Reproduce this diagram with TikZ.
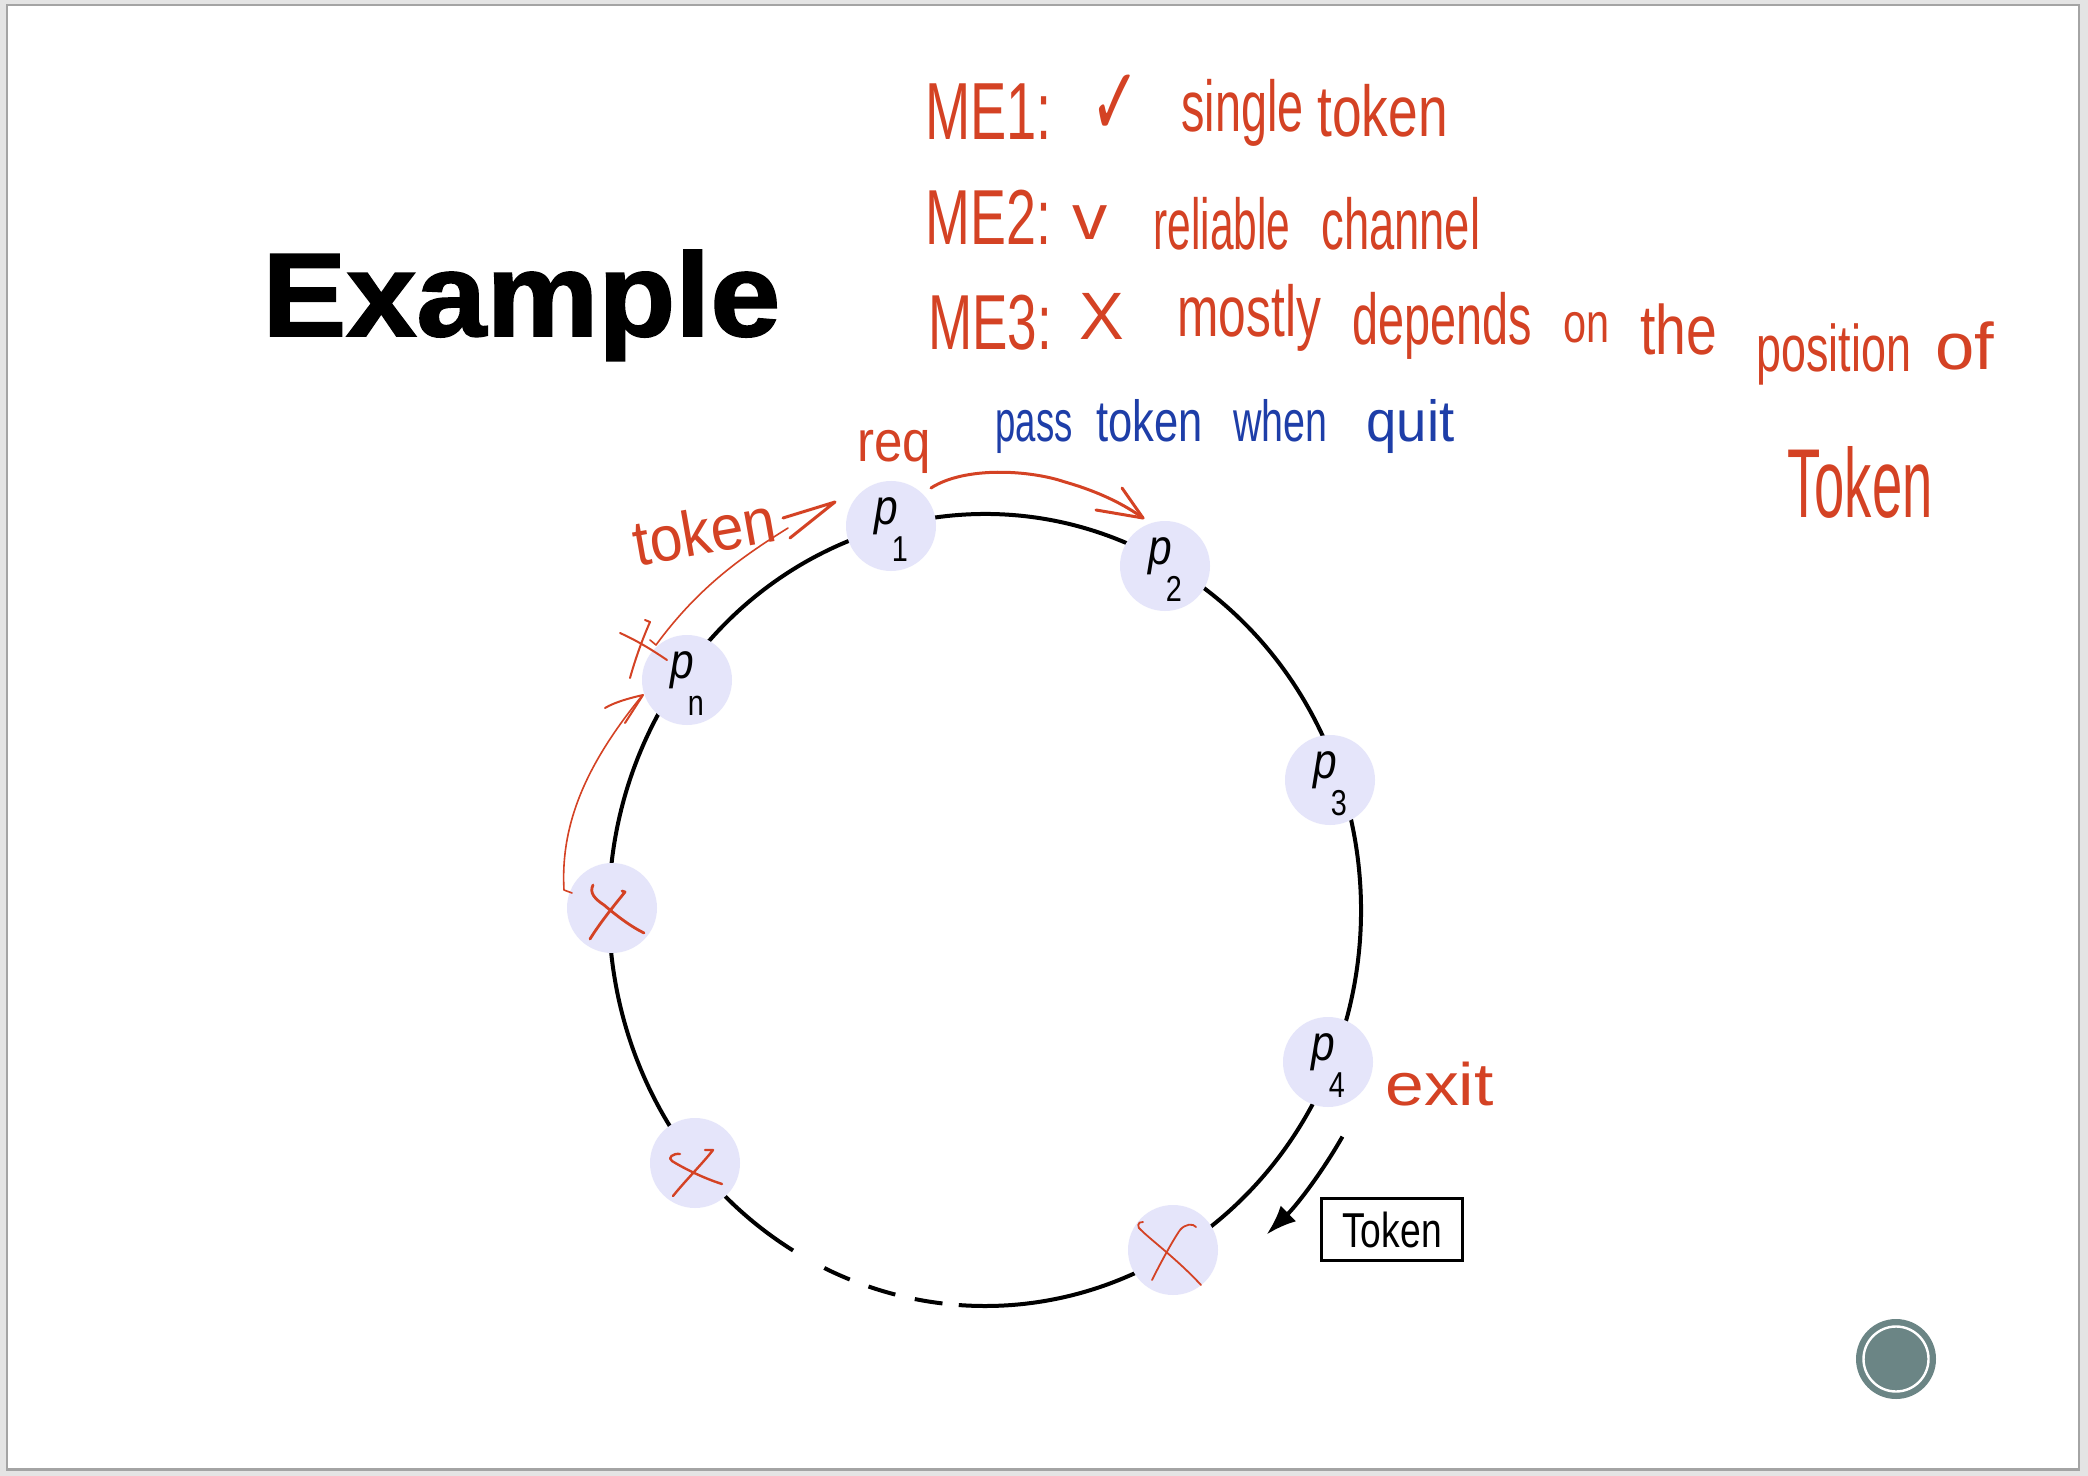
\documentclass[tikz,border=0pt]{standalone}
\usepackage{fontspec}
\usepackage{graphicx}
\usetikzlibrary{arrows.meta}
\setmainfont{Liberation Sans}
\newfontfamily\handfont{Liberation Sans}
\newfontfamily\symfont{DejaVu Sans}
\newfontfamily\titlefont[BoldFeatures={FakeBold=1.5}]{Liberation Sans}

\definecolor{hred}{RGB}{212,66,36}
\definecolor{hblue}{RGB}{30,62,168}
\definecolor{nodefill}{RGB}{229,229,250}
\definecolor{framegray}{RGB}{164,164,164}
\definecolor{shadowgray}{RGB}{228,228,228}
\definecolor{buttonteal}{RGB}{107,133,133}

% horizontally scaled text at a given size
\newcommand\hw[3]{\scalebox{#1}[1]{\fontsize{#2}{#2}\selectfont #3}}
% process label p with a low subscript
\newcommand\plab[1]{\hw{0.85}{25pt}{\itshape p}\kern-3pt\raisebox{-18.5pt}{\hw{0.8}{18pt}{#1}}}

\tikzset{
  hand/.style={inner sep=0, anchor=base west, text=hred, font=\handfont},
  handblue/.style={hand, text=hblue},
  proc/.style={circle, fill=nodefill, minimum size=45pt, inner sep=0,
               text height=14pt, text depth=16pt, font=\normalfont},
  ring/.style={line width=2pt},
  redpen/.style={draw=hred, line width=1.5pt, line cap=round, line join=round},
  thinpen/.style={draw=hred, line width=0.8pt, line cap=round, line join=round},
  xpen/.style={draw=hred, line width=1.2pt, line cap=round, line join=round},
}

\begin{document}
\begin{tikzpicture}[x=0.5pt,y=-0.5pt]
\useasboundingbox (0,0) rectangle (2088,1476);

% slide page with its frame
\fill[shadowgray] (0,0) rectangle (2088,1476);
\draw[framegray, line width=1.25pt, fill=white] (7,5) rectangle (2079,1469.5);

% title
\node[anchor=base west, inner sep=0, font=\titlefont\bfseries] (title) at (262,336)
  {\hw{1.06}{59.4pt}{Example}};

% the ring
\coordinate (c) at (985,910);
\draw[ring] (c) ++(120.7:376 and 396)
  arc[start angle=120.7, end angle=454, x radius=376, y radius=396];
\draw[ring, dash pattern=on 14pt off 10pt] (c) ++(96.5:376 and 396)
  arc[start angle=96.5, end angle=118, x radius=376, y radius=396];

% processes on the ring
\node[proc] (p1)  at (891,526)  {\plab{1}};
\node[proc] (p2)  at (1165,566) {\plab{2}};
\node[proc] (p3)  at (1330,780) {\plab{3}};
\node[proc] (p4)  at (1328,1062) {\plab{4}};
\node[proc] (xbr) at (1173,1250) {};
\node[proc] (xbl) at (695,1163) {};
\node[proc] (xl)  at (612,908)  {};
\node[proc] (pn)  at (687,680)  {\plab{n}};

% token travelling along the ring
\draw[ring, -{Latex[length=15pt,width=11pt]}] (c) ++(31:417 and 440)
  arc[start angle=31, end angle=47.5, x radius=417, y radius=440];
\node[draw, line width=1.7pt, minimum width=70.4pt, minimum height=31pt, inner sep=0]
  (tokbox) at (1392,1229.5) {\hw{0.76}{24.5pt}{Token}};

% crossed-out processes
\begin{scope}[shift={(xl)}]
  \draw[xpen, line width=1.4pt] (-19,-23) .. controls (-23,-15) and (-17,-9) .. (-8,-3)
     .. controls (5,8) and (18,18) .. (32,25);
  \draw[xpen, line width=1.4pt] (10,-17) -- (13,-16) .. controls (0,0) and (-12,15) .. (-22,31);
\end{scope}
\begin{scope}[shift={(xbl)}]
  \draw[xpen] (-15,-9) .. controls (-22,-10) and (-28,-5) .. (-23,-2)
     .. controls (-15,3) and (5,14) .. (27,21);
  \draw[xpen] (10,-13) -- (18,-13) .. controls (8,0) and (-10,18) .. (-22,33);
\end{scope}
\begin{scope}[shift={(xbr)}]
  \draw[xpen, line width=0.9pt] (-30,-28) .. controls (-36,-29) and (-36,-22) .. (-32,-20)
     .. controls (-22,-10) and (5,10) .. (28,35);
  \draw[xpen, line width=0.9pt] (23,-23) .. controls (20,-27) and (12,-26) .. (7,-20)
     .. controls (0,-10) and (-12,12) .. (-21,30);
\end{scope}

% request arrow from p1 towards p2
\coordinate (reqs) at (931,488);
\coordinate (reqt) at (1143,518);
\draw[redpen] (reqs) .. controls (965,466) and (1030,470) .. (1065,482)
  .. controls (1100,492) and (1125,505) .. (reqt);
\draw[redpen] (1096,510) -- (reqt) -- (1122,488);

% token handed from pn to p1
\coordinate (tks) at (656,645);
\coordinate (tkt) at (835,502);
\draw[thinpen] (650,640) -- (tks) .. controls (700,585) and (745,555) .. (788,528);
\draw[redpen] (783,518) -- (tkt) -- (790,538);

% token handed from the crossed process to pn
\coordinate (lfs) at (572,893);
\coordinate (lft) at (643,695);
\draw[thinpen] (lfs) -- (564,890) .. controls (560,820) and (590,760) .. (641,697);
\draw[thinpen, line width=1pt] (605,708) .. controls (615,702) and (630,698) .. (lft) -- (625,723);

% small cross next to pn
\draw[thinpen, line width=1pt] (620,633) .. controls (640,642) and (655,652) .. (667,660);
\draw[thinpen, line width=1pt] (645,620) -- (650,622) .. controls (642,640) and (635,660) .. (630,678);

% handwritten notes
\node[hand] (me1) at (925,140) {\hw{0.67}{40.5pt}{ME1:}};
\node[hand] (chk1) at (1090,136) {\symfont\hw{0.62}{48pt}{✓}};
\node[hand] (single) at (1181,132) {\hw{0.65}{36pt}{single}};
\node[hand] (tokA) at (1317,137) {\hw{0.74}{36pt}{token}};

\node[hand] (me2) at (925,245) {\hw{0.69}{39pt}{ME2:}};
\node[hand] (chk2) at (1072,240) {\hw{1.1}{32pt}{v}};
\node[hand] (reliable) at (1153,250) {\hw{0.59}{36pt}{reliable}};
\node[hand] (channel) at (1321,250) {\hw{0.63}{36pt}{channel}};

\node[hand] (me3) at (928,350) {\hw{0.68}{39pt}{ME3:}};
\node[hand] (cross3) at (1079,340) {\hw{1.0}{33.5pt}{X}};
\node[hand] (mostly) at (1177,337) {\hw{0.69}{36pt}{mostly}};
\node[hand] (depends) at (1352,345) {\hw{0.65}{36pt}{depends}};
\node[hand] (on) at (1563,343) {\hw{0.74}{28pt}{on}};
\node[hand] (the) at (1640,355) {\hw{0.79}{35pt}{the}};
\node[hand] (position) at (1756,372) {\hw{0.68}{33pt}{position}};
\node[hand] (of) at (1935,370) {\hw{1.07}{33pt}{of}};
\node[hand] (tokB) at (1787,517) {\hw{0.555}{49pt}{Token}};

\node[hand] (req) at (857,462) {\hw{0.88}{29pt}{req}};
\node[hand, anchor=center, rotate=10] (toklab) at (704,531) {\hw{0.92}{32pt}{token}};
\node[hand] (exit) at (1385,1105) {\hw{1.16}{30pt}{exit}};

\node[handblue] (pass) at (995,442) {\hw{0.63}{29pt}{pass}};
\node[handblue] (tokC) at (1096,442) {\hw{0.75}{29pt}{token}};
\node[handblue] (when) at (1233,442) {\hw{0.68}{29pt}{when}};
\node[handblue] (quit) at (1366,442) {\hw{0.94}{29pt}{quit}};

% slide navigation button
\fill[buttonteal] (1896,1359) circle[radius=40];
\draw[white, line width=1.2pt] (1896,1359) circle[radius=32.5];
\end{tikzpicture}
\end{document}
